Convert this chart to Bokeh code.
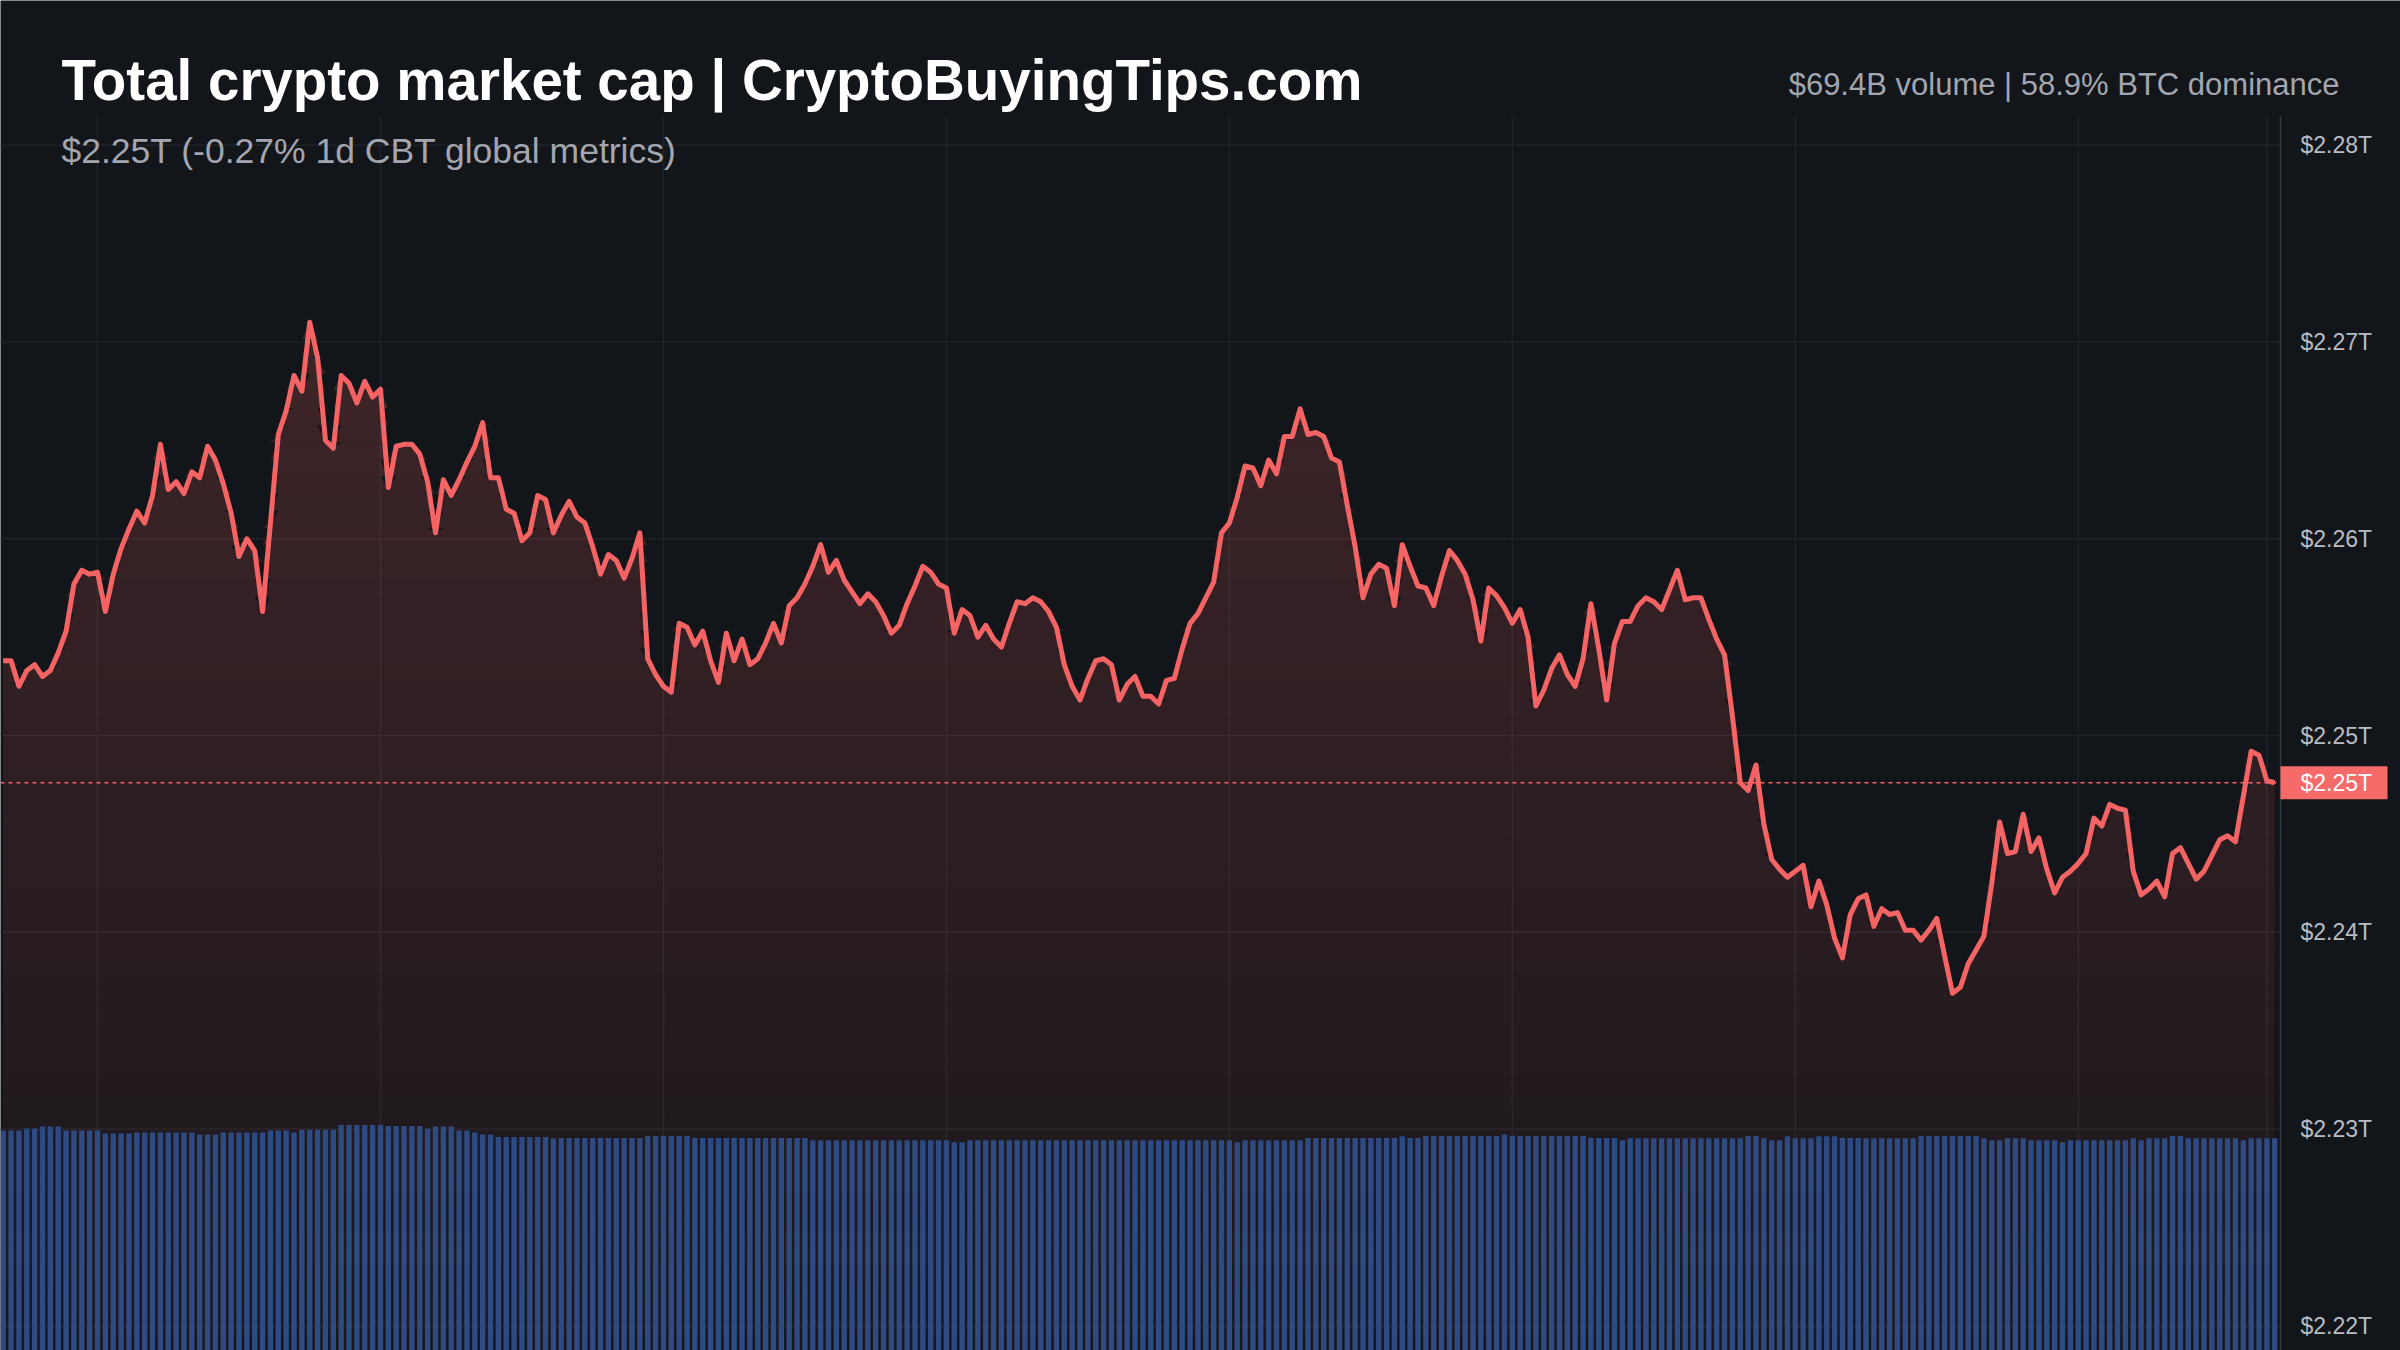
import numpy as np
from bokeh.plotting import figure
from bokeh.models import Range1d, Label
from bokeh.core.properties import value
from bokeh.embed import file_html
from bokeh.resources import INLINE

# ---------------- data ----------------
title_text = "Total crypto market cap | CryptoBuyingTips.com"
subtitle_text = "$2.25T (-0.27% 1d CBT global metrics)"
stats_text = "$69.4B volume | 58.9% BTC dominance"
last_price_text = "$2.25T"
price_ticks = [2.22, 2.23, 2.24, 2.25, 2.26, 2.27, 2.28]
price_tick_labels = ["$2.22T", "$2.23T", "$2.24T", "$2.25T", "$2.26T", "$2.27T", "$2.28T"]
time_grid = [12, 48, 84, 120, 156, 192, 228, 264, 288]   # 5-min bar index of vertical grid lines

# total market cap, $T, one point per 5 minutes
market_cap = [
    2.2538, 2.2538, 2.2525, 2.2533, 2.2536, 2.2530, 2.2533, 2.2542, 2.2553, 2.2577,
    2.2584, 2.2582, 2.2583, 2.2563, 2.2582, 2.2595, 2.2605, 2.2614, 2.2608, 2.2622,
    2.2648, 2.2625, 2.2629, 2.2623, 2.2634, 2.2631, 2.2647, 2.2640, 2.2628, 2.2613,
    2.2591, 2.2600, 2.2594, 2.2563, 2.2608, 2.2653, 2.2665, 2.2683, 2.2675, 2.2710,
    2.2692, 2.2650, 2.2646, 2.2683, 2.2679, 2.2669, 2.2680, 2.2672, 2.2676, 2.2626,
    2.2647, 2.2648, 2.2648, 2.2643, 2.2629, 2.2603, 2.2630, 2.2622, 2.2630, 2.2639,
    2.2647, 2.2659, 2.2631, 2.2631, 2.2615, 2.2613, 2.2599, 2.2603, 2.2622, 2.2620,
    2.2603, 2.2612, 2.2619, 2.2611, 2.2608, 2.2596, 2.2582, 2.2592, 2.2589, 2.2580,
    2.2590, 2.2603, 2.2539, 2.2531, 2.2525, 2.2522, 2.2557, 2.2555, 2.2546, 2.2553,
    2.2538, 2.2527, 2.2552, 2.2538, 2.2549, 2.2536, 2.2539, 2.2547, 2.2557, 2.2547,
    2.2566, 2.2570, 2.2577, 2.2586, 2.2597, 2.2583, 2.2589, 2.2579, 2.2573, 2.2567,
    2.2572, 2.2568, 2.2561, 2.2552, 2.2556, 2.2567, 2.2576, 2.2586, 2.2583, 2.2577,
    2.2575, 2.2552, 2.2564, 2.2561, 2.2550, 2.2556, 2.2549, 2.2545, 2.2557, 2.2568,
    2.2567, 2.2570, 2.2568, 2.2563, 2.2555, 2.2536, 2.2525, 2.2518, 2.2529, 2.2538,
    2.2539, 2.2536, 2.2518, 2.2526, 2.2530, 2.2520, 2.2520, 2.2516, 2.2528, 2.2529,
    2.2544, 2.2557, 2.2562, 2.2570, 2.2578, 2.2603, 2.2608, 2.2621, 2.2637, 2.2636,
    2.2627, 2.2640, 2.2633, 2.2652, 2.2652, 2.2666, 2.2653, 2.2654, 2.2652, 2.2641,
    2.2639, 2.2617, 2.2596, 2.2570, 2.2582, 2.2587, 2.2585, 2.2566, 2.2597, 2.2586,
    2.2576, 2.2575, 2.2566, 2.2581, 2.2594, 2.2589, 2.2582, 2.2569, 2.2548, 2.2575,
    2.2571, 2.2565, 2.2557, 2.2564, 2.2550, 2.2515, 2.2523, 2.2534, 2.2541, 2.2531,
    2.2525, 2.2539, 2.2567, 2.2544, 2.2518, 2.2547, 2.2558, 2.2558, 2.2566, 2.2570,
    2.2568, 2.2564, 2.2574, 2.2584, 2.2569, 2.2570, 2.2570, 2.2559, 2.2549, 2.2541,
    2.2510, 2.2476, 2.2472, 2.2485, 2.2455, 2.2437, 2.2432, 2.2428, 2.2431, 2.2434,
    2.2413, 2.2426, 2.2414, 2.2397, 2.2387, 2.2409, 2.2417, 2.2419, 2.2403, 2.2412,
    2.2409, 2.2410, 2.2401, 2.2401, 2.2396, 2.2401, 2.2407, 2.2388, 2.2369, 2.2372,
    2.2384, 2.2391, 2.2398, 2.2425, 2.2456, 2.2440, 2.2441, 2.2460, 2.2441, 2.2448,
    2.2432, 2.2420, 2.2428, 2.2431, 2.2435, 2.2440, 2.2458, 2.2454, 2.2465, 2.2463,
    2.2462, 2.2431, 2.2419, 2.2422, 2.2426, 2.2418, 2.2440, 2.2443, 2.2435, 2.2427,
    2.2431, 2.2439, 2.2447, 2.2449, 2.2446, 2.2469, 2.2492, 2.2490, 2.2477, 2.2476,
]

# rolling 24h volume, $B, one bar per 5 minutes
volume = [
    71.9, 71.9, 71.9, 72.6, 72.6, 73.2, 73.2, 73.2, 71.9, 71.9,
    71.9, 71.9, 71.9, 70.9, 70.9, 70.9, 70.9, 71.3, 71.3, 71.3,
    71.3, 71.3, 71.3, 71.3, 71.3, 70.6, 70.6, 70.6, 71.3, 71.3,
    71.3, 71.3, 71.3, 71.3, 71.9, 71.9, 71.9, 71.3, 72.2, 72.2,
    72.2, 72.2, 72.2, 73.7, 73.7, 73.7, 73.7, 73.7, 73.7, 73.4,
    73.4, 73.4, 73.4, 73.4, 72.6, 73.2, 73.2, 73.2, 71.9, 71.9,
    71.3, 70.6, 70.6, 69.8, 69.8, 69.8, 69.8, 69.8, 69.8, 69.8,
    69.3, 69.5, 69.5, 69.5, 69.5, 69.5, 69.5, 69.5, 69.5, 69.5,
    69.5, 69.5, 70.1, 70.1, 70.1, 70.1, 70.1, 70.1, 69.5, 69.5,
    69.5, 69.5, 69.5, 69.5, 69.5, 69.5, 69.5, 69.5, 69.5, 69.5,
    69.5, 69.5, 69.5, 68.7, 68.7, 68.7, 68.7, 68.7, 68.7, 68.7,
    68.7, 68.7, 68.7, 68.7, 68.7, 68.7, 68.7, 68.7, 68.7, 68.7,
    68.7, 68.1, 68.1, 68.7, 68.7, 68.7, 68.7, 68.7, 68.7, 68.7,
    68.7, 68.7, 68.7, 68.7, 68.7, 68.7, 68.7, 68.7, 68.7, 68.7,
    68.7, 68.7, 68.7, 68.7, 68.7, 68.7, 68.7, 68.7, 68.7, 68.7,
    68.7, 68.7, 68.7, 68.7, 68.7, 68.7, 68.7, 68.1, 68.7, 68.7,
    68.7, 68.7, 68.7, 68.7, 68.7, 68.7, 69.5, 69.5, 69.5, 69.5,
    69.5, 69.5, 69.5, 69.5, 69.5, 69.5, 69.5, 69.5, 70.0, 69.5,
    69.5, 70.1, 70.1, 70.1, 70.1, 70.1, 70.1, 70.1, 70.1, 70.1,
    70.1, 70.6, 70.1, 70.1, 70.1, 70.1, 70.1, 70.1, 70.1, 70.1,
    70.1, 70.1, 69.5, 69.5, 69.5, 69.5, 68.7, 69.4, 69.4, 69.4,
    69.4, 69.4, 69.4, 69.4, 69.4, 69.4, 69.4, 69.4, 69.4, 69.4,
    69.4, 69.4, 70.1, 70.1, 69.4, 68.7, 68.7, 70.0, 69.4, 69.4,
    69.4, 70.0, 70.0, 70.0, 69.5, 69.5, 69.5, 69.4, 69.4, 69.4,
    69.4, 69.4, 69.4, 69.4, 70.1, 70.1, 70.1, 70.1, 70.1, 70.1,
    70.1, 70.1, 69.4, 68.7, 68.7, 69.4, 69.4, 69.4, 68.7, 68.7,
    68.7, 68.7, 68.1, 68.7, 68.7, 68.7, 68.7, 68.7, 68.7, 68.7,
    68.7, 69.4, 68.7, 69.4, 69.4, 69.4, 70.1, 70.1, 69.4, 69.4,
    69.4, 69.4, 69.4, 69.4, 69.4, 68.7, 69.4, 69.4, 69.4, 69.4,
]

# ---------------- style / layout ----------------
W, H = 2400, 1350
PANE_RIGHT_PX = 2280          # price-axis line
PANE_TOP_PX = 116
TAG_RIGHT_PX = 2387
TAG_HALF_PX = 16.5
BG = "#121519"
GRID = "#1f2329"
AXIS_LINE = "#363a42"
LINE = "#f56464"
TAG = "#f76a6a"
VOL = "#2d4a83"
LABEL = "#b8bcc4"
SUB = "#a3a6af"
FONT = "Liberation Sans"

# pixel <-> data mapping (frame fills the whole canvas)
X0_PX, STEP_PX = 2.7, 7.86
T_PER_PX = 1.0 / 19675.0
REF_PX, REF_VAL = 735.0, 2.25


def px2x(px):
    return (px - X0_PX) / STEP_PX


def px2y(py):
    return REF_VAL + (REF_PX - py) * T_PER_PX


X_START, X_END = px2x(0), px2x(W)
Y_TOP, Y_BOT = px2y(0), px2y(H)
Y_PANE_TOP = px2y(PANE_TOP_PX)
X_PANE_RIGHT = px2x(PANE_RIGHT_PX)

p = figure(width=W, height=H, output_backend="svg", toolbar_location=None,
           x_range=Range1d(X_START, X_END), y_range=Range1d(Y_BOT, Y_TOP),
           x_axis_location=None, y_axis_location=None,
           min_border_left=0, min_border_top=0, min_border_bottom=0,
           min_border_right=0,
           background_fill_color=BG, border_fill_color=BG,
           outline_line_color=None)
p.xgrid.visible = False
p.ygrid.visible = False

# volume scale: bottom of canvas = 0, last bar top at ~1137.7px
vol_bar_px = 212.3
p.extra_y_ranges = {"vol": Range1d(0, volume[-1] * H / vol_bar_px)}

x = np.arange(len(market_cap))
vals = np.array(market_cap)
last = market_cap[-1]
n_t = len(price_ticks)
tg = np.array(time_grid, dtype=float)

# grid lines (horizontal to the axis line, vertical up to pane top)
p.segment(x0=np.full(n_t, X_START), y0=price_ticks, x1=np.full(n_t, X_PANE_RIGHT),
          y1=price_ticks, line_color=GRID, line_width=1.5, level="underlay")
p.segment(x0=tg, y0=np.full(len(tg), Y_BOT), x1=tg, y1=np.full(len(tg), Y_PANE_TOP),
          line_color=GRID, line_width=1.5, level="underlay")

# gradient area under the line, built from horizontal slices
N_BANDS = 60
A_TOP, A_BOT = 0.20, 0.03
vmax = vals.max()
edges = np.linspace(Y_BOT, vmax, N_BANDS + 1)
for k in range(N_BANDS):
    lo, hi = edges[k], edges[k + 1]
    t = (0.5 * (lo + hi) - Y_BOT) / (vmax - Y_BOT)
    a = A_BOT + (A_TOP - A_BOT) * t
    p.varea(x=x, y1=lo, y2=np.clip(vals, lo, hi), fill_color=LINE, fill_alpha=a)

# volume bars
p.vbar(x=x, top=volume, bottom=0, width=0.68, y_range_name="vol",
       fill_color=VOL, line_color=None)

# last price dashed line (to the axis)
p.segment(x0=[X_START], y0=[last], x1=[X_PANE_RIGHT], y1=[last],
          line_color=LINE, line_dash="4 4", line_width=1.6)

# price line
p.line(x, vals, line_color=LINE, line_width=5, line_join="round")

# price axis: line + tick labels
p.segment(x0=[X_PANE_RIGHT], y0=[Y_BOT], x1=[X_PANE_RIGHT], y1=[Y_PANE_TOP],
          line_color=AXIS_LINE, line_width=1.5)
p.text(x=np.full(n_t, px2x(2300)), y=price_ticks, text=price_tick_labels,
       text_font=value(FONT), text_font_size=value("23px"), text_color=LABEL,
       text_baseline="middle", text_align="left")

# last price tag on the axis
half = TAG_HALF_PX * T_PER_PX
p.quad(left=[X_PANE_RIGHT], right=[px2x(TAG_RIGHT_PX)], bottom=[last - half],
       top=[last + half], fill_color=TAG, line_color=None)
p.text(x=[px2x(2300)], y=[last], text=[last_price_text],
       text_font=value(FONT), text_font_size=value("23px"), text_color="#ffffff",
       text_baseline="middle", text_align="left")

# texts (baselines corrected for the renderer's offset)
p.add_layout(Label(x=px2x(61), y=px2y(80), text=title_text,
                   text_font=FONT, text_font_style="bold",
                   text_font_size="56.5px", text_color="#ffffff",
                   text_baseline="alphabetic", text_align="left"))
p.add_layout(Label(x=px2x(61), y=px2y(150), text=subtitle_text,
                   text_font=FONT, text_font_size="35.5px",
                   text_color=SUB, text_baseline="alphabetic", text_align="left"))
p.add_layout(Label(x=px2x(2339), y=px2y(84), text=stats_text,
                   text_font=FONT, text_font_size="31px",
                   text_color=SUB, text_baseline="alphabetic", text_align="right"))

open("out.html", "w").write(file_html(p, INLINE))
